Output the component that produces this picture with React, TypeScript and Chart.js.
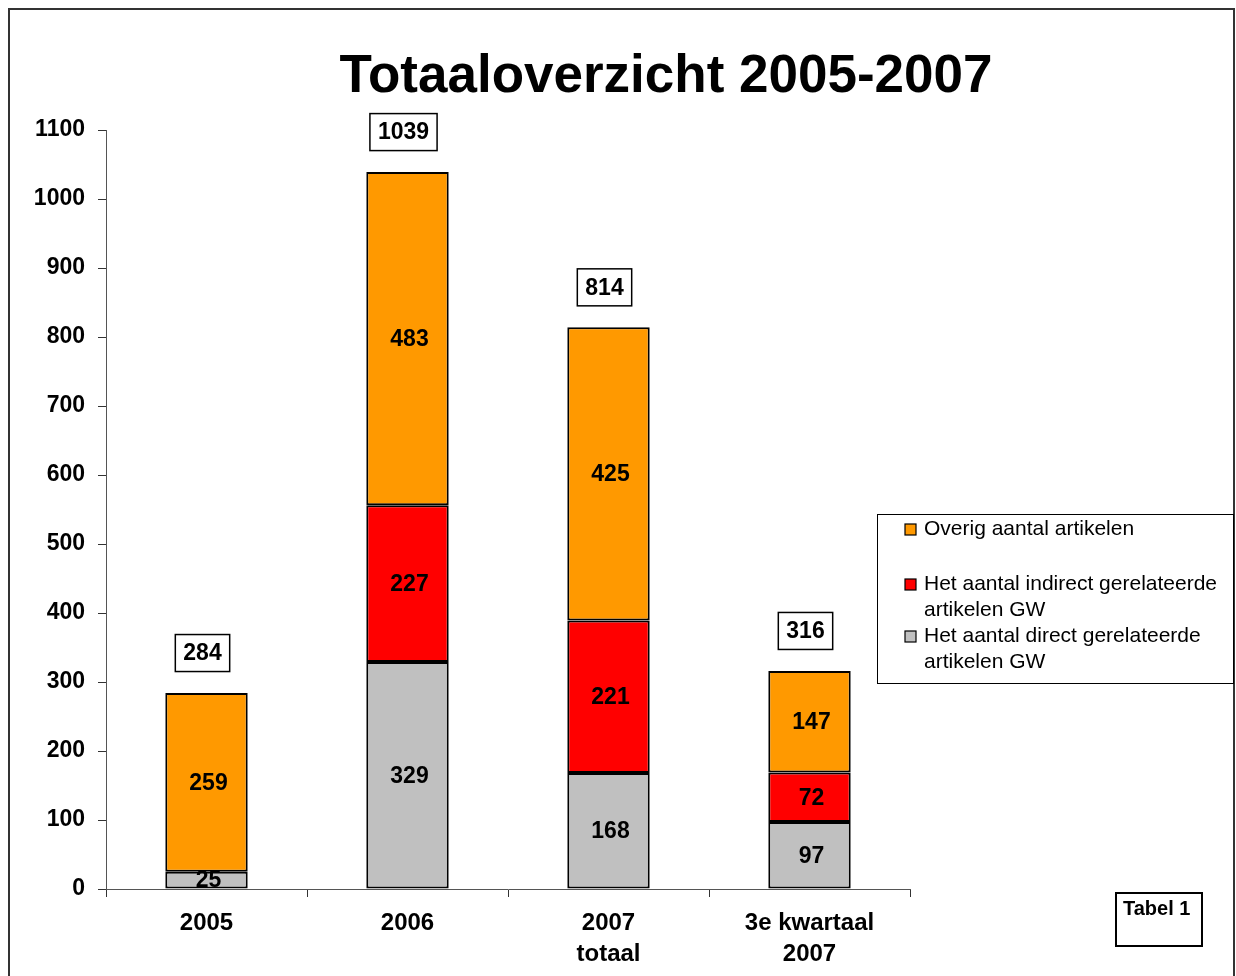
import React, { useEffect, useRef } from "react";
import { Chart, registerables } from "chart.js";

Chart.register(...registerables);

const titleText = "Totaaloverzicht 2005-2007";
const categories: (string | string[])[] = ["2005", "2006", ["2007", "totaal"], ["3e kwartaal", "2007"]];
const directValues = [25, 329, 168, 97];
const indirectValues = [0, 227, 221, 72];
const overigValues = [259, 483, 425, 147];
const yMin = 0;
const yMax = 1100;
const yStep = 100;
const seriesNames = [
  "Het aantal direct gerelateerde artikelen GW",
  "Het aantal indirect gerelateerde artikelen GW",
  "Overig aantal artikelen",
];
const seriesColors = ["#C0C0C0", "#FF0000", "#FF9900"];
const legendLines: string[][] = [
  ["Overig aantal artikelen"],
  ["Het aantal indirect gerelateerde", "artikelen GW"],
  ["Het aantal direct gerelateerde", "artikelen GW"],
];
const legendColors = ["#FF9900", "#FF0000", "#C0C0C0"];
const tableLabel = "Tabel 1";

const FONT = "'Liberation Sans', Arial, Helvetica, sans-serif";

const decorPlugin = {
  id: "decor",
  beforeDraw(chart: any) {
    const ctx = chart.ctx;
    ctx.save();
    ctx.fillStyle = "#ffffff";
    ctx.fillRect(0, 0, chart.width, chart.height);
    ctx.restore();
  },
  afterDraw(chart: any) {
    const ctx = chart.ctx;
    ctx.save();
    // outer frame
    ctx.strokeStyle = "#333333";
    ctx.lineWidth = 2;
    ctx.strokeRect(9, 9, 1225, 980);

    // title
    ctx.fillStyle = "#000";
    ctx.font = `bold 53px ${FONT}`;
    ctx.textAlign = "center";
    ctx.textBaseline = "alphabetic";
    ctx.fillText(titleText, 666, 92);

    // segment labels
    ctx.font = `bold 23px ${FONT}`;
    ctx.textBaseline = "middle";
    chart.data.datasets.forEach((ds: any, di: number) => {
      const meta = chart.getDatasetMeta(di);
      meta.data.forEach((el: any, i: number) => {
        const v = ds.data[i];
        if (!v) return;
        const cy = (el.y + el.base) / 2;
        ctx.fillStyle = "#000";
        ctx.fillText(String(v), el.x + 2, cy + 1);
      });
    });

    // totals boxes
    const yScale = chart.scales.y;
    const meta0 = chart.getDatasetMeta(0);
    meta0.data.forEach((el: any, i: number) => {
      const total = directValues[i] + indirectValues[i] + overigValues[i];
      const top = yScale.getPixelForValue(total);
      const cy = top - 40;
      const txt = String(total);
      ctx.font = `bold 23px ${FONT}`;
      const w = ctx.measureText(txt).width + 16;
      const h = 37;
      ctx.fillStyle = "#fff";
      ctx.fillRect(el.x - w / 2 - 4, cy - h / 2, w, h);
      ctx.strokeStyle = "#000";
      ctx.lineWidth = 1.5;
      ctx.strokeRect(el.x - w / 2 - 4, cy - h / 2, w, h);
      ctx.fillStyle = "#000";
      ctx.textAlign = "center";
      ctx.fillText(txt, el.x - 4, cy + 1);
    });

    // legend
    ctx.strokeStyle = "#000";
    ctx.lineWidth = 1;
    ctx.strokeRect(877.5, 514.5, 356, 169);
    const itemTops = [529, 584, 636];
    const lineGap = 26;
    ctx.font = `21px ${FONT}`;
    ctx.textAlign = "left";
    ctx.textBaseline = "middle";
    legendLines.forEach((lines, k) => {
      const y0 = itemTops[k];
      ctx.fillStyle = legendColors[k];
      ctx.fillRect(905, y0 - 5, 11, 11);
      ctx.strokeStyle = "#000";
      ctx.lineWidth = 1.2;
      ctx.strokeRect(905, y0 - 5, 11, 11);
      ctx.fillStyle = "#000";
      lines.forEach((ln, j) => {
        ctx.fillText(ln, 924, y0 + j * lineGap);
      });
    });

    // tabel box
    ctx.strokeStyle = "#000";
    ctx.lineWidth = 2;
    ctx.strokeRect(1116, 893, 86, 53);
    ctx.font = `bold 20px ${FONT}`;
    ctx.fillStyle = "#000";
    ctx.textAlign = "left";
    ctx.fillText(tableLabel, 1123, 909);
    ctx.restore();
  },
};

export default function App() {
  const ref = useRef<HTMLCanvasElement | null>(null);
  useEffect(() => {
    if (!ref.current) return;
    const chart = new Chart(ref.current, {
      type: "bar",
      data: {
        labels: categories as any,
        datasets: [
          { label: seriesNames[0], data: directValues, backgroundColor: seriesColors[0] },
          { label: seriesNames[1], data: indirectValues, backgroundColor: seriesColors[1] },
          { label: seriesNames[2], data: overigValues, backgroundColor: seriesColors[2] },
        ].map((d) => ({
          ...d,
          borderColor: "#000",
          borderWidth: 2,
          borderSkipped: false,
          categoryPercentage: 1,
          barPercentage: 0.41,
        })),
      },
      options: {
        responsive: false,
        animation: false,
        devicePixelRatio: 1,
        layout: { padding: { left: 0, right: 326, top: 130, bottom: 0 } },
        plugins: {
          legend: { display: false },
          title: { display: false },
          tooltip: { enabled: false },
        },
        scales: {
          x: {
            stacked: true,
            afterFit: (s: any) => {
              s.height = 87;
            },
            grid: {
              drawOnChartArea: false,
              drawTicks: true,
              tickLength: 8,
              color: "#333",
              offset: true,
            },
            border: { display: true, color: "#555", width: 1 },
            ticks: {
              color: "#000",
              font: { family: FONT, size: 24, weight: "bold", lineHeight: 1.3 },
              padding: 11,
              maxRotation: 0,
              autoSkip: false,
            },
          },
          y: {
            stacked: true,
            min: yMin,
            max: yMax,
            afterFit: (s: any) => {
              s.width = 106;
            },
            grid: {
              drawOnChartArea: false,
              drawTicks: true,
              tickLength: 8,
              color: "#333",
            },
            border: { display: true, color: "#555", width: 1 },
            ticks: {
              stepSize: yStep,
              color: "#000",
              font: { family: FONT, size: 23, weight: "bold" },
              padding: 13,
              callback: (v: any) => String(v),
            },
          },
        },
      } as any,
      plugins: [decorPlugin],
    });
    return () => chart.destroy();
  }, []);
  return (
    <div style={{ position: "absolute", left: 0, top: 0, width: 1236, height: 976 }}>
      <canvas ref={ref} width={1236} height={976} style={{ display: "block", width: 1236, height: 976 }} />
    </div>
  );
}
